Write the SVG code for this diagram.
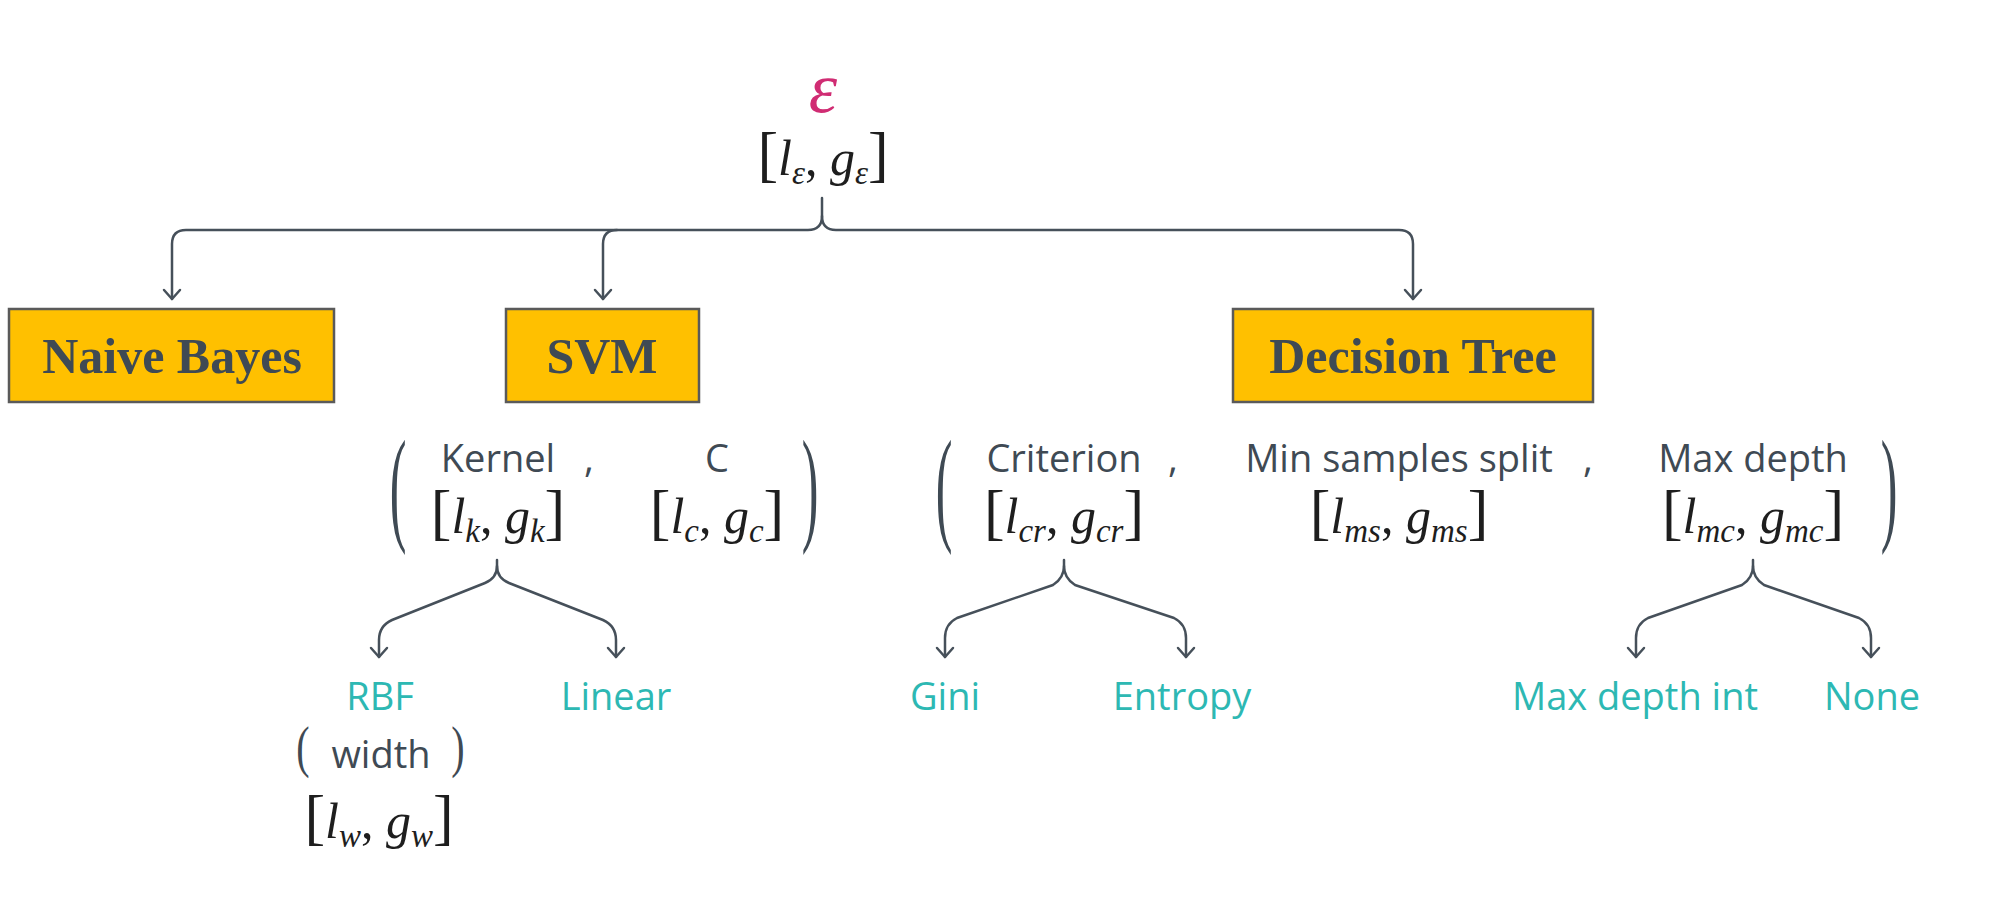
<svg xmlns="http://www.w3.org/2000/svg" width="2000" height="921" viewBox="0 0 2000 921">
<defs>
<marker id="ah" markerUnits="userSpaceOnUse" markerWidth="24" markerHeight="24" refX="12" refY="12" orient="auto">
<path d="M3,4 L12,12 L3,20" fill="none" stroke="#46505a" stroke-width="2.5" stroke-linecap="round" stroke-linejoin="round"/>
</marker>
<style>
.box{fill:#FFC000;stroke:#5a5a5a;stroke-width:2.5}
.bl{font-family:"Liberation Serif",serif;font-weight:bold;font-size:50px;fill:#3f4a54;text-anchor:middle}
.lb{font-family:"Open Sans","Noto Sans",sans-serif;font-size:38px;fill:#3f4a54;text-anchor:middle}
.tl{font-family:"Open Sans","Noto Sans",sans-serif;font-size:38px;fill:#2DB8B3;text-anchor:middle}
.m{font-family:"Liberation Serif",serif;font-size:50px;fill:#1e1e1e;text-anchor:middle}
.i{font-style:italic}
.s{font-style:italic;font-size:33px}
.br{font-size:62px}
.pr{font-family:"Liberation Serif",serif;font-size:50px;fill:#3f4a54;text-anchor:middle}
.ps{font-family:"Liberation Serif",serif;font-size:40px;fill:#3f4a54;text-anchor:middle}
.c{fill:none;stroke:#46505a;stroke-width:2.5;stroke-linecap:round;stroke-linejoin:round}
</style>
</defs>
<rect width="2000" height="921" fill="#ffffff"/>

<g id="connectors">
<path class="c" d="M822,198 V216 Q822,230 808,230 H186 Q172,230 172,244 V299" marker-end="url(#ah)"/>
<path class="c" d="M617,230 Q603,230 603,244 V299" marker-end="url(#ah)"/>
<path class="c" d="M822,216 Q822,230 836,230 H1399 Q1413,230 1413,244 V299" marker-end="url(#ah)"/>
<path class="c" d="M497,560 V566 Q497,578 485,583 L392,620 Q379,626 379,640 V657" marker-end="url(#ah)"/>
<path class="c" d="M497,566 Q497,578 509,583 L603,620 Q616,626 616,640 V657" marker-end="url(#ah)"/>
<path class="c" d="M1064,560 V566 Q1064,578 1053,585 L957,618 Q945,624 945,638 V657" marker-end="url(#ah)"/>
<path class="c" d="M1064,566 Q1064,578 1075,585 L1174,618 Q1186,624 1186,638 V657" marker-end="url(#ah)"/>
<path class="c" d="M1753,560 V566 Q1753,578 1742,585 L1648,618 Q1636,624 1636,638 V657" marker-end="url(#ah)"/>
<path class="c" d="M1753,566 Q1753,578 1764,585 L1859,618 Q1871,624 1871,638 V657" marker-end="url(#ah)"/>
</g>

<g id="root">
<text x="823" y="112" font-family="Liberation Serif,serif" font-style="italic" font-size="72" fill="#D02C73" text-anchor="middle">ε</text>
<text class="m" x="823" y="175"><tspan class="br">[</tspan><tspan class="i">l</tspan><tspan class="s" dy="9">ε</tspan><tspan dy="-9">, </tspan><tspan class="i">g</tspan><tspan class="s" dy="9">ε</tspan><tspan class="br" dy="-9">]</tspan></text>
</g>

<g id="naive-bayes">
<rect class="box" x="9" y="309" width="325" height="93"/>
<text class="bl" x="172" y="373">Naive Bayes</text>
</g>

<g id="svm">
<rect class="box" x="506" y="309" width="193" height="93"/>
<text class="bl" x="602" y="373">SVM</text>
</g>

<g id="decision-tree">
<rect class="box" x="1233" y="309" width="360" height="93"/>
<text class="bl" x="1413" y="373">Decision Tree</text>
</g>

<g id="svm-params">
<text class="pr" x="398" y="207" transform="scale(1,2.55)">(</text>
<text class="lb" x="498" y="472">Kernel</text>
<text class="lb" x="589" y="472">,</text>
<text class="lb" x="717" y="472">C</text>
<text class="pr" x="810" y="207" transform="scale(1,2.55)">)</text>
<text class="m" x="498" y="533"><tspan class="br">[</tspan><tspan class="i">l</tspan><tspan class="s" dy="9">k</tspan><tspan dy="-9">, </tspan><tspan class="i">g</tspan><tspan class="s" dy="9">k</tspan><tspan class="br" dy="-9">]</tspan></text>
<text class="m" x="717" y="533"><tspan class="br">[</tspan><tspan class="i">l</tspan><tspan class="s" dy="9">c</tspan><tspan dy="-9">, </tspan><tspan class="i">g</tspan><tspan class="s" dy="9">c</tspan><tspan class="br" dy="-9">]</tspan></text>
</g>

<g id="rbf">
<text class="tl" x="380" y="710">RBF</text>
<text class="ps" x="303" y="547" transform="scale(1,1.4)">(</text>
<text class="lb" x="381" y="768">width</text>
<text class="ps" x="458" y="547" transform="scale(1,1.4)">)</text>
<text class="m" x="379" y="838"><tspan class="br">[</tspan><tspan class="i">l</tspan><tspan class="s" dy="9">w</tspan><tspan dy="-9">, </tspan><tspan class="i">g</tspan><tspan class="s" dy="9">w</tspan><tspan class="br" dy="-9">]</tspan></text>
</g>

<g id="linear">
<text class="tl" x="616" y="710">Linear</text>
</g>

<g id="dt-params">
<text class="pr" x="944" y="207" transform="scale(1,2.55)">(</text>
<text class="lb" x="1064" y="472">Criterion</text>
<text class="lb" x="1173" y="472">,</text>
<text class="lb" x="1399" y="472">Min samples split</text>
<text class="lb" x="1588" y="472">,</text>
<text class="lb" x="1753" y="472">Max depth</text>
<text class="pr" x="1889" y="207" transform="scale(1,2.55)">)</text>
<text class="m" x="1064" y="533"><tspan class="br">[</tspan><tspan class="i">l</tspan><tspan class="s" dy="9">cr</tspan><tspan dy="-9">, </tspan><tspan class="i">g</tspan><tspan class="s" dy="9">cr</tspan><tspan class="br" dy="-9">]</tspan></text>
<text class="m" x="1399" y="533"><tspan class="br">[</tspan><tspan class="i">l</tspan><tspan class="s" dy="9">ms</tspan><tspan dy="-9">, </tspan><tspan class="i">g</tspan><tspan class="s" dy="9">ms</tspan><tspan class="br" dy="-9">]</tspan></text>
<text class="m" x="1753" y="533"><tspan class="br">[</tspan><tspan class="i">l</tspan><tspan class="s" dy="9">mc</tspan><tspan dy="-9">, </tspan><tspan class="i">g</tspan><tspan class="s" dy="9">mc</tspan><tspan class="br" dy="-9">]</tspan></text>
</g>

<g id="gini"><text class="tl" x="945" y="710">Gini</text></g>
<g id="entropy"><text class="tl" x="1182" y="710">Entropy</text></g>
<g id="max-depth-int"><text class="tl" x="1635" y="710">Max depth int</text></g>
<g id="none"><text class="tl" x="1872" y="710">None</text></g>
</svg>
